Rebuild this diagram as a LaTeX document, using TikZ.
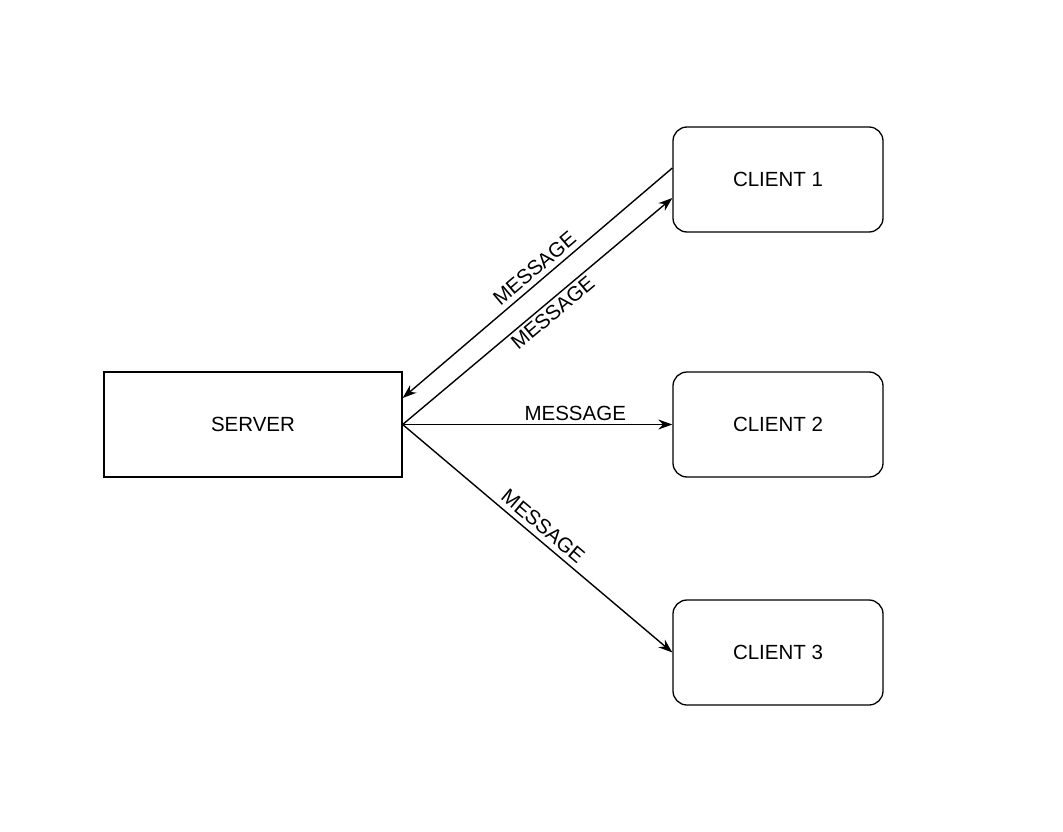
\documentclass[tikz,border=0pt]{standalone}
\usepackage{fontspec}
\setmainfont{Liberation Sans}
\usetikzlibrary{arrows.meta}
\tikzset{
  box/.style    = {draw, line width=1.3pt, minimum height=105pt, font=\fontsize{20.5}{24}\selectfont},
  server/.style = {box, minimum width=298pt},
  client/.style = {box, minimum width=210pt, rounded corners=14pt},
  msg/.style    = {font=\fontsize{20.5}{24}\selectfont, sloped, inner sep=3pt}
}
\begin{document}
\begin{tikzpicture}[x=1pt, y=-1pt, >={Stealth[length=14pt,width=10pt]}, line width=1.4pt]
  \useasboundingbox (0,0) rectangle (1063,832);
  \node[server] (srv) at (253,424.5) {SERVER};
  \node[client] (c1) at (778,179.5) {CLIENT 1};
  \node[client] (c2) at (778,424.5) {CLIENT 2};
  \node[client] (c3) at (778,652.5) {CLIENT 3};

  \draw[->] (c1.west |- 0,168) -- (srv.east |- 0,398)
    node[msg, pos=0.48, above, yshift=2pt] {MESSAGE};
  \draw[->] (srv.east) -- (c1.west |- 0,198)
    node[msg, pos=0.53, below] {MESSAGE};
  \draw[->] (srv.east) -- (c2.west)
    node[msg, pos=0.64, above] {MESSAGE};
  \draw[->] (srv.east) -- (c3.west)
    node[msg, pos=0.49, above, yshift=2pt] {MESSAGE};
\end{tikzpicture}
\end{document}
